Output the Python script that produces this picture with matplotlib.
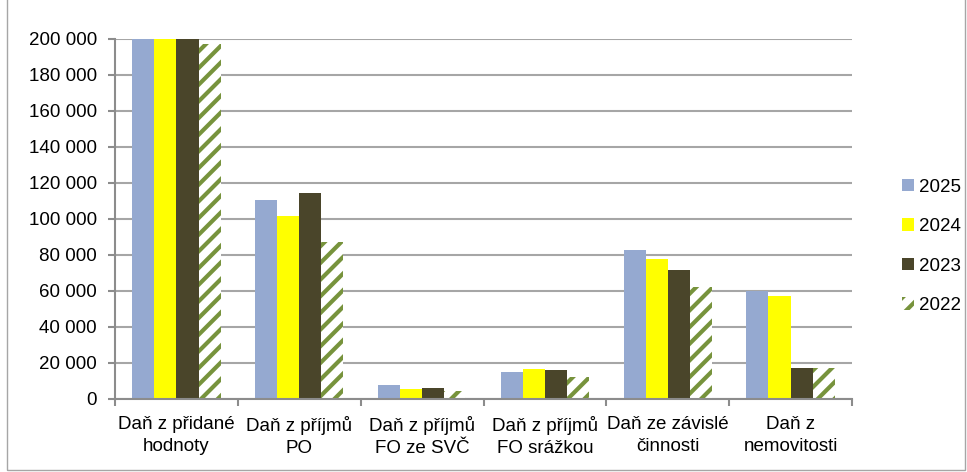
import matplotlib.pyplot as plt
import numpy as np
from matplotlib.ticker import FuncFormatter, FixedLocator

plt.rcParams['font.family'] = ['Liberation Sans', 'DejaVu Sans']
plt.rcParams['hatch.linewidth'] = 3.0

# Kategorie a hodnoty (tis. Kč)
kategorie = ['Daň z přidané\nhodnoty', 'Daň z příjmů\nPO', 'Daň z příjmů\nFO ze SVČ',
             'Daň z příjmů\nFO srážkou', 'Daň ze závislé\nčinnosti', 'Daň z\nnemovitosti']
roky = ['2025', '2024', '2023', '2022']
h2025 = [230000, 110500, 7800, 15000, 83000, 60000]
h2024 = [230000, 101700, 5500, 16700, 78000, 57000]
h2023 = [230000, 114500, 6000, 16000, 71700, 17000]
h2022 = [197000, 87000, 4500, 12000, 62000, 17000]

barvy = ['#95A9D0', '#FFFF00', '#4A452A', 'white']
serie = [h2025, h2024, h2023, h2022]

fig = plt.figure(figsize=(9.67, 4.72), dpi=100)
ax = fig.add_axes([0.119, 0.1547, 0.762, 0.7627])

x = np.arange(len(kategorie))
w = 0.18
for i, (vals, c, rok) in enumerate(zip(serie, barvy, roky)):
    pos = x + (i - 1.5) * w
    if rok == '2022':
        ax.bar(pos, vals, w, color='white', edgecolor='#77933C', hatch='//',
               linewidth=0, label=rok, zorder=3)
    else:
        ax.bar(pos, vals, w, color=c, linewidth=0, label=rok, zorder=3)

ax.set_ylim(0, 200000)
ax.set_xlim(-0.5, len(kategorie) - 0.5)
ax.set_yticks(np.arange(0, 200001, 20000))
ax.yaxis.set_major_formatter(FuncFormatter(lambda v, p: f'{int(v):,}'.replace(',', ' ')))
ax.set_xticks(x)
ax.set_xticklabels(kategorie, fontsize=13.5, linespacing=1.45)
ax.xaxis.set_minor_locator(FixedLocator(np.arange(-0.5, len(kategorie), 1)))
ax.tick_params(axis='x', which='major', length=0, pad=12)
ax.tick_params(axis='x', which='minor', length=5, color='#8C8C8C', width=1.5)
ax.tick_params(axis='y', length=5, color='#8C8C8C', width=1.5, labelsize=13.5, pad=8)

ax.grid(axis='y', color='#A6A6A6', linewidth=1.5, zorder=0)
for s in ['top', 'right']:
    ax.spines[s].set_visible(False)
for s in ['left', 'bottom']:
    ax.spines[s].set_color('#8C8C8C')
    ax.spines[s].set_linewidth(1.5)
ax.spines['bottom'].set_zorder(4)

leg = fig.legend(loc='center left', bbox_to_anchor=(0.915, 0.478), frameon=False,
                 fontsize=13.5, handlelength=0.65, handleheight=0.65,
                 labelspacing=1.2, handletextpad=0.3)

fig.patches.append(plt.Rectangle((7 / 967, 2 / 472), 958 / 967, 1.0, transform=fig.transFigure,
                                 fill=False, edgecolor='#A6A6A6', linewidth=1))

fig.savefig('out.png', dpi=100)
